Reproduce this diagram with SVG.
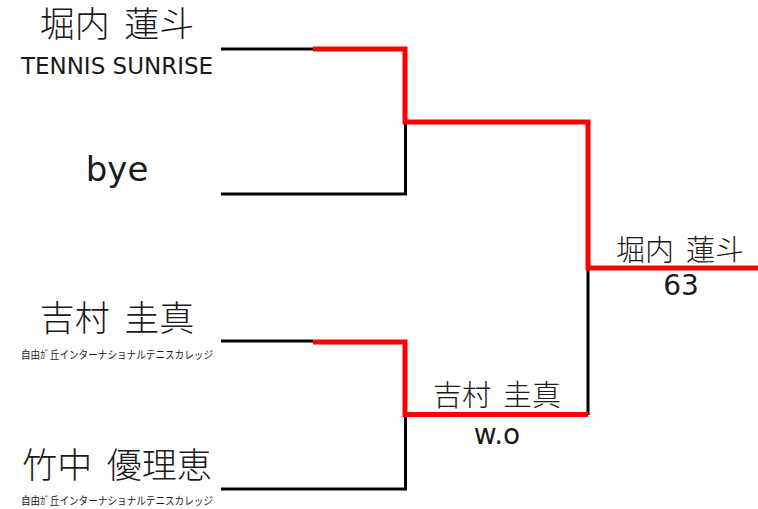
<svg xmlns="http://www.w3.org/2000/svg" width="758" height="509" viewBox="0 0 758 509">
<style>
.bk{fill:none;stroke:#000;stroke-width:3}
.rd{fill:none;stroke:#ff0000;stroke-width:5;stroke-linejoin:miter}
.jp{font-family:"Noto Sans CJK JP","Noto Sans",sans-serif;fill:#1a1a1a;text-anchor:middle;font-weight:300;word-spacing:0.2em}
.la{font-family:"DejaVu Sans","Noto Sans",sans-serif;fill:#1a1a1a;text-anchor:middle}
.sm{font-family:"Noto Sans CJK JP",sans-serif;fill:#1a1a1a;font-size:11px}
</style>
<rect width="758" height="509" fill="#fff"/>
<g id="connectors">
<path class="bk" d="M221,49 H313"/>
<path class="bk" d="M221,194 H405.5 V122"/>
<path class="bk" d="M221,341 H313"/>
<path class="bk" d="M221,489 H405.5 V414"/>
<path class="bk" d="M588,268 V415"/>
<path class="rd" d="M313,49 H405 V122 H588 V268 H758"/>
<path class="rd" d="M313,342 H405 V414.5 H588"/>
</g>
<g id="p1">
<text class="jp" x="117" y="37" font-size="35">堀内 蓮斗</text>
<text class="la" x="117" y="74" font-size="23">TENNIS SUNRISE</text>
</g>
<g id="p2">
<text class="la" x="117" y="181" font-size="34">bye</text>
</g>
<g id="p3">
<text class="jp" x="117" y="331" font-size="35">吉村 圭真</text>
<text class="sm" x="21" y="359" textLength="192" lengthAdjust="spacingAndGlyphs">自由ｶﾞ丘インターナショナルテニスカレッジ</text>
</g>
<g id="p4">
<text class="jp" x="117" y="478" font-size="35">竹中 優理恵</text>
<text class="sm" x="21" y="505" textLength="192" lengthAdjust="spacingAndGlyphs">自由ｶﾞ丘インターナショナルテニスカレッジ</text>
</g>
<g id="r1b">
<text class="jp" x="497" y="406" font-size="29">吉村 圭真</text>
<text class="la" x="497" y="444" font-size="28">w.o</text>
</g>
<g id="final">
<text class="jp" x="680" y="261" font-size="29">堀内 蓮斗</text>
<text class="la" x="681" y="295" font-size="28">63</text>
</g>
</svg>
